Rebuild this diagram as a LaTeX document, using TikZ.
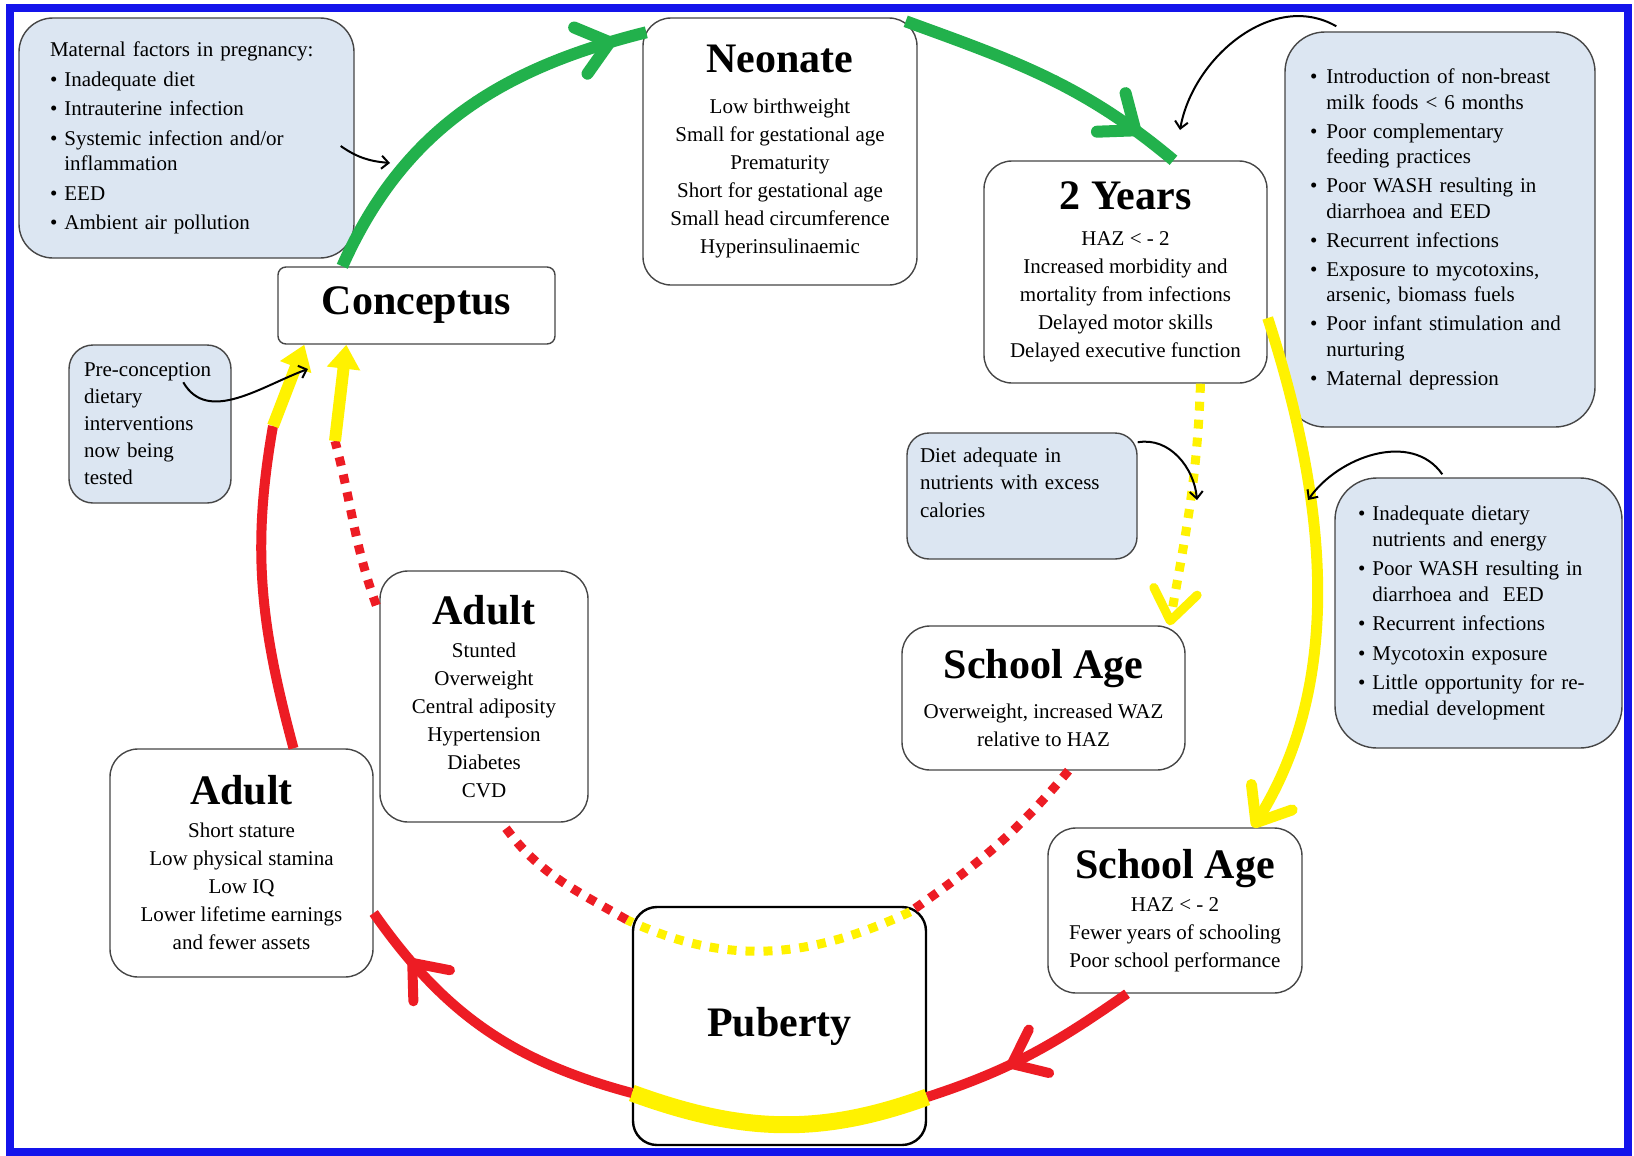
\documentclass[tikz,border=0pt]{standalone}
\usepackage{fontspec}
\setmainfont{Liberation Serif}
\usepackage{tikz}
\usetikzlibrary{arrows.meta}
\usetikzlibrary{decorations.markings}

\definecolor{cyclegreen}{RGB}{34,177,76}
\definecolor{cycleyellow}{RGB}{255,242,0}
\definecolor{cyclered}{RGB}{237,28,36}
\definecolor{frameblue}{RGB}{20,20,235}
\definecolor{factorblue}{RGB}{220,230,242}
\definecolor{boxgrey}{RGB}{70,70,70}

\newcommand{\stagetext}{\fontsize{21}{28}\selectfont}
\newcommand{\stagetitle}{\fontsize{42}{46}\selectfont\bfseries}
\newcommand{\factortext}{\fontsize{21}{25.5}\selectfont}

\tikzstyle{stage} = [draw=boxgrey, line width=1.4pt, fill=white, rounded corners=28pt, align=center, font=\stagetext, inner sep=2pt]
\tikzstyle{factor} = [draw=boxgrey, line width=1.4pt, fill=factorblue, rounded corners=34pt, align=left, font=\factortext, inner ysep=2pt]
\tikzstyle{pointer} = [black, line width=2pt, -{Straight Barb[length=7pt,width=13pt]}]
\tikzset{loopline/.style={line width=11pt},
  loopdots/.style={line width=9pt, dash pattern=on 9pt off 9pt},
  midtip/.style={postaction={decorate}, decoration={markings, mark=at position #1 with {\arrow{Straight Barb[length=30pt,width=48pt,round]}}}},
}

\begin{document}
\begin{tikzpicture}[x=1pt,y=1pt]
        % Page and blue frame
        \useasboundingbox (0,0) rectangle (1634,-1156);
        \fill[white] (0,0) rectangle (1634,-1156);
        \draw[frameblue, line width=8pt] (10,-8) rectangle (1628,-1152);

        % Stages of the cycle
        \node[stage, rounded corners=8pt, minimum width=277, minimum height=77] (con) at (416.5,-305.5) {{\stagetitle Conceptus}};
        \node[stage, minimum width=274, minimum height=267] (neo) at (780,-151.5) {{\stagetitle Neonate}\\[13pt]Low birthweight\\Small for gestational age\\Prematurity\\Short for gestational age\\Small head circumference\\Hyperinsulinaemic};
        \node[stage, minimum width=283, minimum height=222] (yrs2) at (1125.5,-272) {{\stagetitle 2 Years}\\[8pt]HAZ < - 2\\Increased morbidity and\\mortality from infections\\Delayed motor skills\\Delayed executive function};
        \node[stage, minimum width=283, minimum height=144] (sch1) at (1043.5,-698) {{\stagetitle School Age}\\[12pt]Overweight, increased WAZ\\relative to HAZ};
        \node[stage, minimum width=254, minimum height=165] (sch2) at (1175,-910.5) {{\stagetitle School Age}\\[5pt]HAZ < - 2\\Fewer years of schooling\\Poor school performance};
        \node[stage, draw=black, line width=2.4pt, fill=none, rounded corners=24pt, minimum width=293, minimum height=238] (pub) at (779.5,-1026) {{\stagetitle Puberty}};
        \node[stage, minimum width=263, minimum height=228] (adl) at (241.5,-863) {{\stagetitle Adult}\\[5pt]Short stature\\Low physical stamina\\Low IQ\\Lower lifetime earnings\\and fewer assets};
        \node[stage, minimum width=208, minimum height=251] (adin) at (484,-696.5) {{\stagetitle Adult}\\[5pt]Stunted\\Overweight\\Central adiposity\\Hypertension\\Diabetes\\CVD};

        % Factor boxes
        \node[factor, inner xsep=31pt, text width=273pt, minimum width=335, minimum height=240] (mat) at (186.5,-138) {%
          \begin{tabular}{@{}l@{\hspace{7pt}}l@{}}
            \multicolumn{2}{@{}l@{}}{Maternal factors in pregnancy:}\\[4pt]
            \textbullet & Inadequate diet\\[4pt]
            \textbullet & Intrauterine infection\\[4pt]
            \textbullet & Systemic infection and/or\\
             & inflammation\\[4pt]
            \textbullet & EED\\[4pt]
            \textbullet & Ambient air pollution
          \end{tabular}};
        \node[factor, rounded corners=40pt, inner xsep=25pt, text width=260pt, minimum width=310, minimum height=395] (rtop) at (1440,-229.5) {%
          \begin{tabular}{@{}l@{\hspace{9pt}}l@{}}
            \textbullet & Introduction of non-breast\\
             & milk foods < 6 months\\[3.5pt]
            \textbullet & Poor complementary\\
             & feeding practices\\[3.5pt]
            \textbullet & Poor WASH resulting in\\
             & diarrhoea and EED\\[3.5pt]
            \textbullet & Recurrent infections\\[3.5pt]
            \textbullet & Exposure to mycotoxins,\\
             & arsenic, biomass fuels\\[3.5pt]
            \textbullet & Poor infant stimulation and\\
             & nurturing\\[3.5pt]
            \textbullet & Maternal depression
          \end{tabular}};
        \node[factor, rounded corners=24pt, inner xsep=15pt, text width=132pt, minimum width=162, minimum height=158, font=\fontsize{21}{27}\selectfont] (pre) at (150,-424) {Pre-conception\\dietary\\interventions\\now being\\tested};
        \node[factor, rounded corners=22pt, inner xsep=13pt, text width=204pt, minimum width=230, minimum height=126, font=\fontsize{21}{27.5}\selectfont] (diet) at (1022,-496) {Diet adequate in\\nutrients with excess\\calories\\ \mbox{}};
        \node[factor, rounded corners=42pt, inner xsep=23pt, text width=241pt, minimum width=287, minimum height=270] (rmid) at (1478.5,-613) {%
          \begin{tabular}{@{}l@{\hspace{7pt}}l@{}}
            \textbullet & Inadequate dietary\\
             & nutrients and energy\\[4pt]
            \textbullet & Poor WASH resulting in\\
             & diarrhoea and\ \ EED\\[4pt]
            \textbullet & Recurrent infections\\[4pt]
            \textbullet & Mycotoxin exposure\\[4pt]
            \textbullet & Little opportunity for re-\\
             & medial development
          \end{tabular}};

        % Points where the loop meets the boxes or stops
        \coordinate (pubr) at ([yshift=-71pt]pub.east);
        \coordinate (publ) at ([yshift=-67pt]pub.west);
        \coordinate (pubtr) at ([shift={(-17,-6)}]pub.north east);
        \coordinate (pubtl) at ([shift={(-5,-14)}]pub.north west);
        \coordinate (ydot) at (335,-441);
        \coordinate (yleft) at (273,-426);

        % Green: conceptus to neonate to two years
        \draw[loopline, cyclegreen, line width=12pt, midtip=0.92] ([xshift=65pt]con.north west) to[out=66,in=194] ([shift={(4,-15)}]neo.north west);
        \draw[loopline, cyclegreen, line width=12pt, midtip=0.86] ([shift={(-12,-4)}]neo.north east) to[out=-20,in=140] ([xshift=48pt]yrs2.north);

        % Yellow: two years to school age
        \draw[loopline, cycleyellow, -{Straight Barb[length=30pt,width=48pt,round]}] ([yshift=-46pt]yrs2.east) to[out=-72,in=58,looseness=0.9] ([xshift=78pt]sch2.north);
        \draw[loopdots, cycleyellow, -{Straight Barb[length=30pt,width=44pt,round]}] ([xshift=75pt]yrs2.south) to[out=-92,in=80] ([xshift=126pt]sch1.north);

        % Red: school age through puberty to adult
        \draw[loopline, cyclered, line width=10pt, midtip=0.62] ([xshift=-48pt]sch2.south) to[out=-145,in=18] (pubr);
        \draw[loopline, cyclered, line width=10pt] (pubr) to[out=-160,in=-20] (publ);
        \draw[cycleyellow, line width=17pt] (pubr) to[out=-160,in=-20] (publ);
        \draw[loopline, cyclered, line width=10pt, midtip=0.82] (publ) to[out=165,in=-55] ([yshift=-50pt]adl.east);
        \draw[loopline, cyclered, line width=10pt] ([xshift=52pt]adl.north) to[out=105,in=-100] (yleft);
        \draw[cycleyellow, line width=12pt, -{Triangle[length=24pt,width=32pt]}] (yleft) -- ([xshift=27pt]con.south west);

        % Dotted path: overweight school age to overweight adult
        \draw[loopdots, cyclered] ([xshift=25pt]sch1.south) to[out=-130,in=35] (pubtr);
        \draw[loopdots, cycleyellow] (pubtr) to[out=-155,in=-25] (pubtl);
        \draw[loopdots, cyclered] (pubtl) to[out=150,in=-55] ([xshift=18pt]adin.south);
        \draw[loopdots, cyclered] ([shift={(-3,-35)}]adin.north west) to[out=110,in=-75] (ydot);
        \draw[cycleyellow, line width=12pt, -{Triangle[length=24pt,width=32pt]}] (ydot) -- ([xshift=69pt]con.south west);

        % Black pointers from the factor boxes
        \coordinate (matpt) at (390,-163);
        \coordinate (twopt) at (1180,-130);
        \coordinate (prept) at (308,-369);
        \coordinate (dietpt) at (1197,-500);
        \coordinate (rmidpt) at (1308,-500);
        \draw[pointer] ([shift={(-14,-8)}]mat.east) to[out=-35,in=175] (matpt);
        \draw[pointer] ([shift={(52,5)}]rtop.north west) to[out=150,in=80] (twopt);
        \draw[pointer] ([shift={(115,-38)}]pre.north west) to[out=-60,in=200] (prept);
        \draw[pointer] ([yshift=-10pt]diet.north east) to[out=10,in=95] (dietpt);
        \draw[pointer] ([shift={(108,3)}]rmid.north west) to[out=125,in=55] (rmidpt);
\end{tikzpicture}
\end{document}
